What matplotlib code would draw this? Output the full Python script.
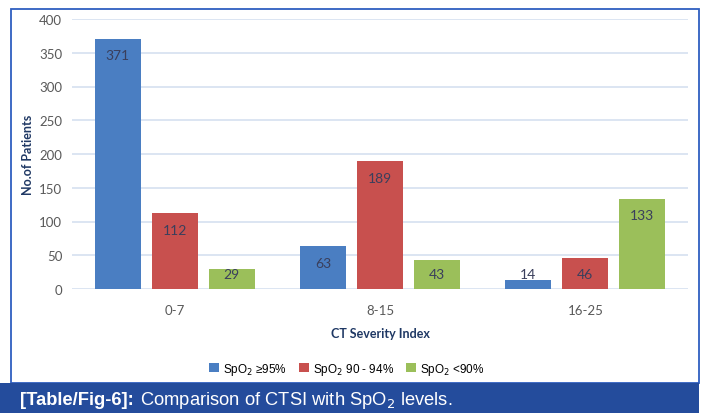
import matplotlib
matplotlib.use("Agg")
import matplotlib.pyplot as plt
from matplotlib.patches import Rectangle
import numpy as np

categories = ["0-7", "8-15", "16-25"]
series_names = [r"SpO$_2$ ≥95%", r"SpO$_2$ 90 - 94%", r"SpO$_2$ <90%"]
spo2_ge95 = [371, 63, 14]
spo2_90_94 = [112, 189, 46]
spo2_lt90 = [29, 43, 133]
series = [spo2_ge95, spo2_90_94, spo2_lt90]
colors = ["#4a7ec2", "#c8504e", "#9bbf5a"]
yticks = [0, 50, 100, 150, 200, 250, 300, 350, 400]

W, H = 705, 414
fig = plt.figure(figsize=(W / 100, H / 100), dpi=100)
fig.patch.set_facecolor("white")

# outer border and caption band
fig.patches.append(Rectangle((11 / W, 1 - 384 / H), (699 - 11) / W, (384 - 10) / H,
                             transform=fig.transFigure, fill=False,
                             edgecolor="#2f5fc0", linewidth=1.3))
fig.patches.append(Rectangle((0, 0), 699 / W, (H - 384) / H,
                             transform=fig.transFigure, facecolor="#244c9c",
                             edgecolor="none"))

ax = fig.add_axes([72 / W, 1 - 290 / H, (688 - 72) / W, 270 / H])
ax.set_facecolor("white")
x = np.arange(len(categories))
bw = 0.224
pitch = 0.278
chart_font = "Lato"
for i, (vals, c) in enumerate(zip(series, colors)):
    xs = x + (i - 1) * pitch
    ax.bar(xs, vals, width=bw, color=c, zorder=3, label=series_names[i])
    for xi, v in zip(xs, vals):
        ax.text(xi, max(v - 24, 22), str(v), ha="center", va="center",
                fontsize=10, color="#3a3f5c", family=chart_font, zorder=4)

ax.set_xlim(-0.5, 2.5)
ax.set_ylim(0, 400)
ax.set_yticks(yticks)
ax.set_xticks(x)
ax.set_xticklabels(categories)
ax.grid(axis="y", color="#d6e0f0", linewidth=1.2, zorder=0)
for s in ax.spines.values():
    s.set_visible(False)
ax.tick_params(length=0, labelsize=9.5, colors="#595959")
ax.tick_params(axis="y", pad=7)
ax.tick_params(axis="x", pad=11)
for lbl in ax.get_xticklabels() + ax.get_yticklabels():
    lbl.set_family(chart_font)
ax.set_xlabel("CT Severity Index", fontsize=9, fontweight="bold",
              color="#1f3864", family=chart_font, labelpad=8)
ax.set_ylabel("No.of Patients", fontsize=9, fontweight="bold",
              color="#1f3864", family=chart_font, labelpad=4)

leg = fig.legend(loc="center", bbox_to_anchor=(347 / W, 1 - 370 / H), ncol=3,
                 frameon=False, prop={"family": "Liberation Sans", "size": 8.5},
                 handlelength=0.8, handleheight=0.8, handletextpad=0.4,
                 columnspacing=1.0)

t1 = fig.text(20 / W, 1 - 401 / H, "[Table/Fig-6]:", fontsize=13.2, fontweight="bold",
              color="white", family="Liberation Sans", va="center")
fig.canvas.draw()
bb = t1.get_window_extent()
fig.text((bb.x1 + 6) / W, 1 - 401 / H, r"Comparison of CTSI with SpO$_2$ levels.",
         fontsize=13.2, color="white", family="Liberation Sans", va="center")

fig.savefig("out.png", dpi=100)
